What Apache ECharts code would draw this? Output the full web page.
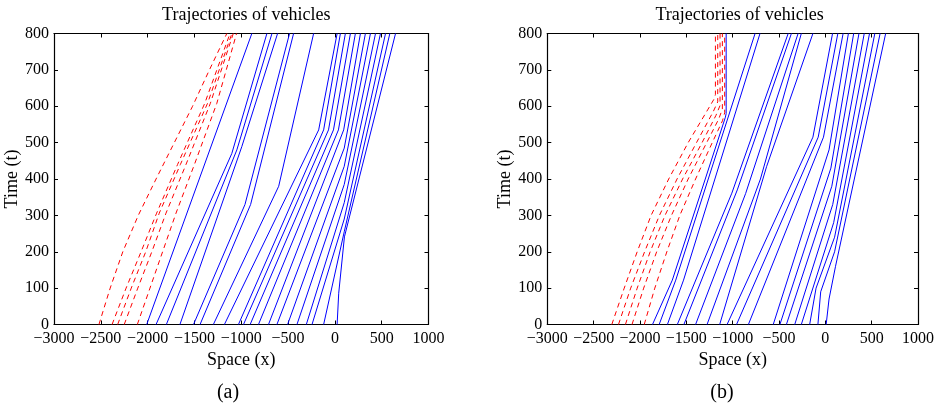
<!DOCTYPE html>
<html><head><meta charset="utf-8">
<script src="https://cdn.jsdelivr.net/npm/echarts@6/dist/echarts.min.js"></script>
<style>html,body{margin:0;padding:0;background:#fff}#c{width:937px;height:406px}</style>
</head><body><div id="c"></div>
<script>
// ---- data: each trajectory is a list of [space x, time t] points ----
const xTicks = [-3000,-2500,-2000,-1500,-1000,-500,0,500,1000];
const tTicks = [0,100,200,300,400,500,600,700,800];
const panelTitles = ["Trajectories of vehicles","Trajectories of vehicles"];
const panelCaptions = ["(a)","(b)"];

const aRed = [
  [[-2520,0],[-2400,100],[-2265,200],[-2100,300],[-1910,400],[-1715,500],[-1520,600],[-1340,700],[-1154,800]],
  [[-2380,0],[-2230,100],[-2070,200],[-1904,306],[-1680,440],[-1390,608],[-1120,800]],
  [[-2320,0],[-2175,100],[-2020,200],[-1876,306],[-1650,440],[-1360,608],[-1100,800]],
  [[-2250,0],[-2105,100],[-1955,200],[-1804,306],[-1590,440],[-1330,608],[-1085,800]],
  [[-2110,0],[-1975,100],[-1840,200],[-1697,306],[-1500,440],[-1261,608],[-1050,800]]
];
const aBlue = [
  [[-2010,0],[-887,800]],
  [[-1910,0],[-1101,470],[-726,800]],
  [[-1800,0],[-1047,480],[-672,800]],
  [[-1655,0],[-994,489],[-612,800]],
  [[-1510,0],[-960,330],[-484,800]],
  [[-1440,0],[-900,330],[-441,800]],
  [[-1298,0],[-600,380],[-227,800]],
  [[-1180,0],[-173,535],[24,800]],
  [[-1030,0],[-120,535],[59,800]],
  [[-976,0],[-68,535],[112,800]],
  [[-905,0],[-15,535],[166,800]],
  [[-816,0],[38,535],[219,800]],
  [[-709,0],[94,535],[273,800]],
  [[-619,0],[100,485],[326,800]],
  [[-505,0],[100,435],[380,800]],
  [[-405,0],[100,385],[434,800]],
  [[-305,0],[100,335],[487,800]],
  [[-244,0],[100,290],[541,800]],
  [[-120,0],[100,255],[587,800]],
  [[24,0],[41,86],[102,241],[648,800]]
];
const bRed = [
  [[-2304,0],[-2170,100],[-2030,200],[-1880,300],[-1690,400],[-1480,500],[-1270,590],[-1200,620],[-1186,632],[-1186,800]],
  [[-2232,0],[-2100,100],[-1950,200],[-1790,300],[-1600,400],[-1390,500],[-1210,585],[-1161,612],[-1161,800]],
  [[-2157,0],[-2030,100],[-1890,200],[-1730,300],[-1540,400],[-1330,500],[-1180,575],[-1136,602],[-1136,800]],
  [[-2086,0],[-1960,100],[-1820,200],[-1660,300],[-1480,400],[-1280,500],[-1150,565],[-1111,592],[-1111,800]],
  [[-1954,0],[-1840,100],[-1710,200],[-1570,300],[-1400,400],[-1220,500],[-1110,560],[-1086,582],[-1086,800]]
];
const bBlue = [
  [[-1865,0],[-1651,122],[-1078,570],[-1070,580],[-1070,800]],
  [[-1793,0],[-1614,122],[-758,800]],
  [[-1704,0],[-1530,122],[-705,800]],
  [[-1597,0],[-1009,361],[-401,800]],
  [[-1526,0],[-950,370],[-366,800]],
  [[-1400,0],[-860,360],[-294,800]],
  [[-1276,0],[-700,400],[-259,800]],
  [[-1140,0],[-634,434],[-134,800]],
  [[-1060,0],[-134,515],[78,800]],
  [[-958,0],[-77,515],[135,800]],
  [[-830,0],[-20,515],[192,800]],
  [[-562,0],[40,480],[249,800]],
  [[-490,0],[60,430],[306,800]],
  [[-420,0],[70,380],[363,800]],
  [[-330,0],[80,330],[420,800]],
  [[-259,0],[90,280],[477,800]],
  [[-169,0],[-100,100],[100,240],[534,800]],
  [[-80,0],[-50,90],[100,200],[591,800]],
  [[9,0],[40,70],[110,160],[651,800]]
];

// ---- chart ----
const FONT = "Liberation Serif";
const fmt = v => v < 0 ? "\u2212" + (-v) : String(v);
const grids = [
  {left: 54, top: 33.5, width: 374.5, height: 291},
  {left: 547.3, top: 33.5, width: 374.5, height: 291}
];
const captionX = [228, 722];
const xAxes = [], yAxes = [], series = [];
grids.forEach((g, i) => {
  const base = {min: xTicks[0], max: xTicks[xTicks.length-1], interval: 500, gridIndex: i,
    axisLine:{show:true,onZero:false,lineStyle:{color:'#000',width:1.2}}, splitLine:{show:false}};
  xAxes.push(Object.assign({}, base, {type:'value', position:'bottom',
    axisTick:{show:true,inside:true,length:4,lineStyle:{color:'#000'}},
    axisLabel:{show:true,formatter:fmt,color:'#000',fontFamily:FONT,fontSize:16,margin:6},
    name:'Space (x)', nameLocation:'middle', nameGap:27,
    nameTextStyle:{color:'#000',fontFamily:FONT,fontSize:18}}));
  xAxes.push(Object.assign({}, base, {type:'value', position:'top',
    axisTick:{show:true,inside:true,length:4,lineStyle:{color:'#000'}},
    axisLabel:{show:false}}));
  const ybase = {min: tTicks[0], max: tTicks[tTicks.length-1], interval: 100, gridIndex: i,
    axisLine:{show:true,onZero:false,lineStyle:{color:'#000',width:1.2}}, splitLine:{show:false}};
  yAxes.push(Object.assign({}, ybase, {type:'value', position:'left',
    axisTick:{show:true,inside:true,length:4,lineStyle:{color:'#000'}},
    axisLabel:{show:true,color:'#000',fontFamily:FONT,fontSize:16,margin:5},
    name:'Time (t)', nameLocation:'middle', nameGap:31, nameRotate:90,
    nameTextStyle:{color:'#000',fontFamily:FONT,fontSize:18}}));
  yAxes.push(Object.assign({}, ybase, {type:'value', position:'right',
    axisTick:{show:true,inside:true,length:4,lineStyle:{color:'#000'}},
    axisLabel:{show:false}}));
});
function addSeries(list, gi, color, dashed) {
  list.forEach(pts => series.push({type:'line', xAxisIndex: gi*2, yAxisIndex: gi*2, data: pts,
    showSymbol:false, symbol:'none', animation:false, silent:true, clip:true,
    lineStyle:{color, width:1, type: dashed ? [5,4] : 'solid'}}));
}
addSeries(aRed, 0, '#ff0000', true);
addSeries(aBlue, 0, '#0000ff', false);
addSeries(bRed, 1, '#ff0000', true);
addSeries(bBlue, 1, '#0000ff', false);

const chart = echarts.init(document.getElementById('c'), null, {renderer:'canvas'});
chart.setOption({
  animation:false,
  backgroundColor:'#fff',
  title: grids.map((g, i) => ({text: panelTitles[i], left: g.left + g.width/2, top: 1, textAlign:'center',
    textStyle:{fontFamily:FONT,fontSize:18,fontWeight:'normal',color:'#000'}})),
  grid: grids,
  xAxis: xAxes, yAxis: yAxes, series,
  graphic: panelCaptions.map((c, i) => ({type:'text', x: captionX[i], y: 393,
    style:{text: c, font: '20px "' + FONT + '"', fill:'#000', align:'center', verticalAlign:'middle'}}))
});
</script></body></html>
